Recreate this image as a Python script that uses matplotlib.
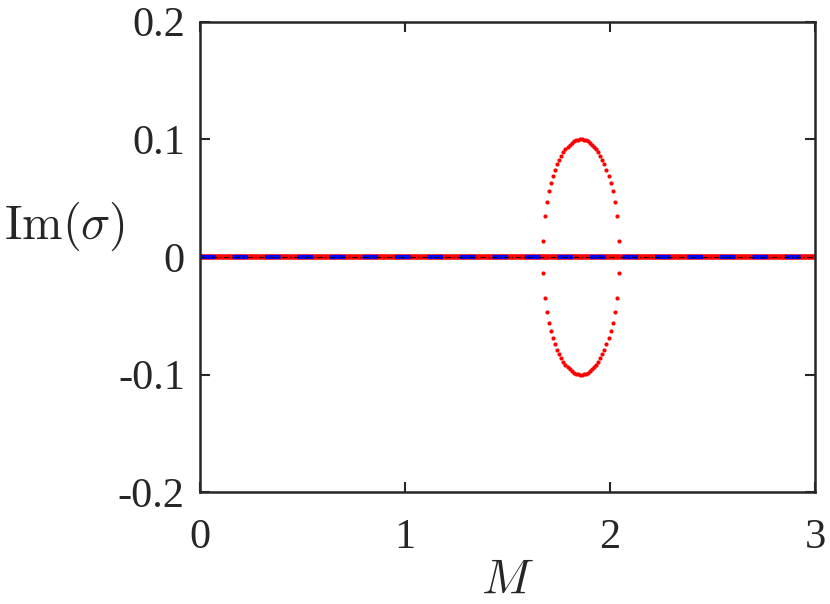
import matplotlib
matplotlib.use("Agg")
import matplotlib.pyplot as plt

# M range of the zero-growth branches (Im = 0 everywhere)
m_zero = [0.0, 3.0]
im_zero = [0.0, 0.0]

# unstable branch: complex-conjugate pair
m_ellipse = [1.6725, 1.6825, 1.6925, 1.7025, 1.7125, 1.7225, 1.7325, 1.7425,
             1.7525, 1.7625, 1.7725, 1.7825, 1.7925, 1.8025, 1.8125, 1.8225,
             1.8325, 1.8425, 1.8525, 1.8625, 1.8725, 1.8825, 1.8925, 1.9025,
             1.9125, 1.9225, 1.9325, 1.9425, 1.9525, 1.9625, 1.9725, 1.9825,
             1.9925, 2.0025, 2.0125, 2.0225, 2.0325, 2.0425]
im_upper = [0.0135, 0.0348, 0.0468, 0.0557, 0.0630, 0.0691, 0.0743, 0.0788,
            0.0827, 0.0861, 0.0890, 0.0916, 0.0937, 0.0956, 0.0971, 0.0982,
            0.0991, 0.0997, 0.1000, 0.1000, 0.0997, 0.0991, 0.0982, 0.0971,
            0.0956, 0.0937, 0.0916, 0.0890, 0.0861, 0.0827, 0.0788, 0.0743,
            0.0691, 0.0630, 0.0557, 0.0468, 0.0348, 0.0135]
im_lower = [-v for v in im_upper]

xticks = [0, 1, 2, 3]
yticks = [-0.2, -0.1, 0, 0.1, 0.2]
ytick_labels = ['-0.2', '-0.1', '0', '0.1', '0.2']

plt.rcParams['font.family'] = 'Liberation Serif'
plt.rcParams['mathtext.fontset'] = 'cm'
plt.rcParams['lines.scale_dashes'] = False

fig = plt.figure(figsize=(8.3, 6.04), dpi=100)
ax = fig.add_axes([0.241, 0.185, 0.741, 0.779])

# red dotted branch at zero, blue dashed and black dash-dot drawn over it
ax.plot(m_zero, im_zero, color='red', lw=4.0, solid_capstyle='butt')
ax.plot(m_zero, im_zero, color='blue', lw=3.0, dashes=(11.2, 12.2),
        dash_capstyle='butt')
ax.plot(m_zero, im_zero, color='black', lw=0.6, dashes=(4.0, 1.8, 0.8, 1.8))

ax.plot(m_ellipse, im_upper, 'o', color='red', ms=3.0, mec='none')
ax.plot(m_ellipse, im_lower, 'o', color='red', ms=3.0, mec='none')

ax.set_xlim(0, 3)
ax.set_ylim(-0.2, 0.2)
ax.set_xticks(xticks)
ax.set_yticks(yticks)
ax.set_yticklabels(ytick_labels)
ax.tick_params(direction='in', length=7, width=1.5, labelsize=30.5,
               top=True, right=True, colors='#262626')
ax.tick_params(axis='x', pad=19)
ax.tick_params(axis='y', pad=11)
for s in ax.spines.values():
    s.set_linewidth(1.8)
    s.set_color('#262626')

ax.set_xlabel(r'$M$', fontsize=35, color='#262626', labelpad=1)
ax.set_ylabel(r'$\mathrm{Im}(\sigma)$', fontsize=35, rotation=0,
              color='#262626', va='center', ha='center')
ax.yaxis.set_label_coords(-0.221, 0.564)

fig.savefig('out.png', dpi=100)
